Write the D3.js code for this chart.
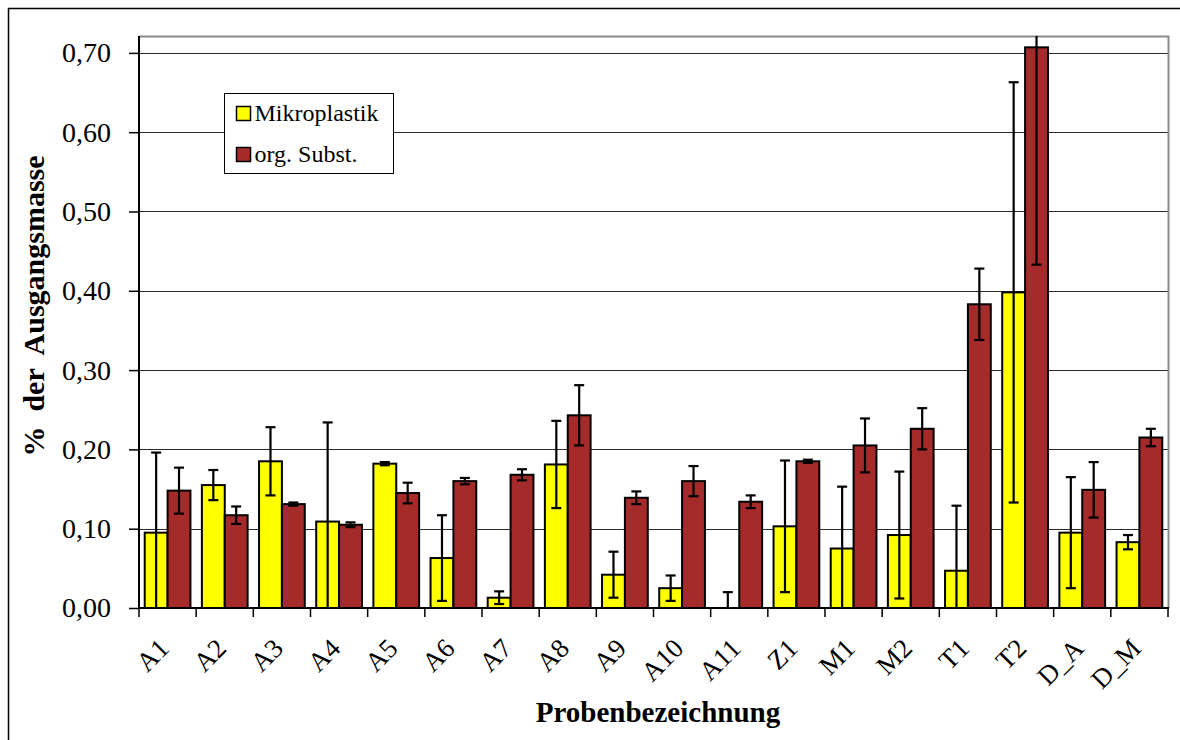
<!DOCTYPE html>
<html>
<head>
<meta charset="utf-8">
<script src="https://cdn.jsdelivr.net/npm/d3@7"></script>
<style>
  html, body { margin: 0; padding: 0; background: #fff; }
  svg { display: block; }
  text { font-family: "Liberation Serif", "Times New Roman", serif; fill: #000; }
</style>
</head>
<body>
<svg id="chart" width="1180" height="740"></svg>
<script>
// Probenbezeichnungen
const categories = ["A1", "A2", "A3", "A4", "A5", "A6", "A7", "A8", "A9", "A10", "A11",
                    "Z1", "M1", "M2", "T1", "T2", "D_A", "D_M"];

// Anteil Mikroplastik (% der Ausgangsmasse) und Standardabweichung
const mikroplastik    = [0.095, 0.155, 0.185, 0.109, 0.182, 0.063, 0.013, 0.181, 0.042, 0.025, 0.000,
                         0.103, 0.075, 0.092, 0.047, 0.398, 0.095, 0.083];
const mikroplastikErr = [0.101, 0.019, 0.043, 0.125, 0.002, 0.054, 0.008, 0.055, 0.029, 0.016, 0.020,
                         0.083, 0.078, 0.080, 0.082, 0.265, 0.070, 0.009];

// Anteil organische Substanz (% der Ausgangsmasse) und Standardabweichung
const orgSubst    = [0.148, 0.117, 0.131, 0.105, 0.145, 0.160, 0.168, 0.243, 0.139, 0.160, 0.134,
                     0.185, 0.205, 0.226, 0.383, 0.707, 0.149, 0.215];
const orgSubstErr = [0.029, 0.011, 0.002, 0.003, 0.013, 0.004, 0.007, 0.038, 0.008, 0.019, 0.008,
                     0.002, 0.034, 0.026, 0.045, 0.274, 0.035, 0.011];

const seriesNames = ["Mikroplastik", "org. Subst."];
const yTicks = [0, 0.1, 0.2, 0.3, 0.4, 0.5, 0.6, 0.7];

const colors = ["#FFFF00", "#A52A2A"];

const svg = d3.select("#chart");

// outer chart frame
svg.append("rect")
  .attr("x", 8.5).attr("y", 8.5)
  .attr("width", 1300).attr("height", 900)
  .attr("fill", "none").attr("stroke", "#000").attr("stroke-width", 1.5);

const plot = { left: 139, right: 1168, top: 36, bottom: 608 };

const x = d3.scaleBand()
  .domain(categories)
  .range([plot.left, plot.right])
  .paddingInner(0)
  .paddingOuter(0);

const inner = d3.scaleBand()
  .domain([0, 1])
  .range([0, x.bandwidth()])
  .paddingOuter(0.25)
  .paddingInner(0);

const y = d3.scaleLinear()
  .domain([0, 0.7213])
  .range([plot.bottom, plot.top]);

// gridlines
svg.append("g")
  .selectAll("line")
  .data(yTicks.filter(d => d > 0))
  .join("line")
  .attr("x1", plot.left).attr("x2", plot.right)
  .attr("y1", d => Math.round(y(d)) + 0.5).attr("y2", d => Math.round(y(d)) + 0.5)
  .attr("stroke", "#2a2a2a").attr("stroke-width", 1);

// plot area border (top / right)
svg.append("path")
  .attr("d", `M${plot.left},${plot.top + 0.5} H${plot.right + 0.5} V${plot.bottom}`)
  .attr("fill", "none").attr("stroke", "#8a8a8a").attr("stroke-width", 2);

svg.append("clipPath").attr("id", "plotClip")
  .append("rect")
  .attr("x", plot.left).attr("y", plot.top)
  .attr("width", plot.right - plot.left).attr("height", plot.bottom - plot.top);

const series = [
  { name: seriesNames[0], values: mikroplastik, errs: mikroplastikErr, color: colors[0] },
  { name: seriesNames[1], values: orgSubst, errs: orgSubstErr, color: colors[1] }
];

const barsG = svg.append("g").attr("clip-path", "url(#plotClip)");

series.forEach((s, si) => {
  barsG.append("g")
    .selectAll("rect")
    .data(categories.map((c, i) => ({ c, v: s.values[i] })))
    .join("rect")
    .attr("x", d => x(d.c) + inner(si))
    .attr("width", inner.bandwidth())
    .attr("y", d => y(d.v))
    .attr("height", d => y(0) - y(d.v))
    .attr("fill", s.color)
    .attr("stroke", "#000")
    .attr("stroke-width", 2);
});

// error bars
const [yMin, yMax] = y.domain();
const capHalf = 5;
series.forEach((s, si) => {
  const g = barsG.append("g").attr("stroke", "#000").attr("stroke-width", 2.2);
  categories.forEach((c, i) => {
    const cx = x(c) + inner(si) + inner.bandwidth() / 2;
    const lo = s.values[i] - s.errs[i];
    const hi = s.values[i] + s.errs[i];
    g.append("line")
      .attr("x1", cx).attr("x2", cx)
      .attr("y1", y(Math.max(lo, yMin))).attr("y2", y(Math.min(hi, yMax + 0.01)));
    if (hi <= yMax) {
      g.append("line").attr("x1", cx - capHalf).attr("x2", cx + capHalf)
        .attr("y1", y(hi)).attr("y2", y(hi));
    }
    if (lo >= yMin) {
      g.append("line").attr("x1", cx - capHalf).attr("x2", cx + capHalf)
        .attr("y1", y(lo)).attr("y2", y(lo));
    }
  });
});

// y axis
const yAxis = d3.axisLeft(y)
  .tickValues(yTicks)
  .tickSize(10)
  .tickPadding(18)
  .tickFormat(d => d3.format(".2f")(d).replace(".", ","));

const yG = svg.append("g")
  .attr("transform", `translate(${plot.left},0)`)
  .call(yAxis);
yG.select(".domain").attr("stroke", "#000").attr("stroke-width", 2)
  .attr("d", `M0,${plot.top}V${plot.bottom}`);
yG.selectAll(".tick line").attr("stroke", "#000").attr("stroke-width", 1.5);
yG.selectAll(".tick text")
  .style("font-family", "'Liberation Serif', 'Times New Roman', serif")
  .style("font-size", "28px")
  .attr("fill", "#000");

// x axis: ticks at category boundaries
const xG = svg.append("g").attr("transform", `translate(0,${plot.bottom})`);
xG.append("line")
  .attr("x1", plot.left).attr("x2", plot.right + 1)
  .attr("y1", 0).attr("y2", 0)
  .attr("stroke", "#000").attr("stroke-width", 2);
const boundaries = categories.map(c => x(c)).concat([x.range()[1]]);
xG.selectAll("line.bt")
  .data(boundaries)
  .join("line").attr("class", "bt")
  .attr("x1", d => d).attr("x2", d => d)
  .attr("y1", 0).attr("y2", 9)
  .attr("stroke", "#000").attr("stroke-width", 1.5);

xG.selectAll("text.cat")
  .data(categories)
  .join("text").attr("class", "cat")
  .attr("transform", d => `translate(${x(d) + x.bandwidth() / 2 + 3},${42}) rotate(-45)`)
  .attr("text-anchor", "end")
  .style("font-size", "27px")
  .text(d => d);

// axis titles
svg.append("text")
  .attr("transform", `translate(44,306) rotate(-90)`)
  .attr("text-anchor", "middle")
  .style("font-size", "30px")
  .style("font-weight", "bold")
  .style("white-space", "pre")
  .text("%  der  Ausgangsmasse");

svg.append("text")
  .attr("x", 658).attr("y", 722)
  .attr("text-anchor", "middle")
  .style("font-size", "29px")
  .style("font-weight", "bold")
  .text("Probenbezeichnung");

// legend
const legend = svg.append("g").attr("transform", "translate(224.5,93.5)");
legend.append("rect")
  .attr("width", 169).attr("height", 80)
  .attr("fill", "#fff").attr("stroke", "#000").attr("stroke-width", 1);
series.forEach((s, i) => {
  const row = legend.append("g").attr("transform", `translate(12,${13 + i * 41})`);
  row.append("rect")
    .attr("width", 14).attr("height", 14)
    .attr("fill", s.color).attr("stroke", "#000").attr("stroke-width", 1.5);
  row.append("text")
    .attr("x", 18).attr("y", 14)
    .style("font-size", "24px")
    .text(s.name);
});
</script>
</body>
</html>
